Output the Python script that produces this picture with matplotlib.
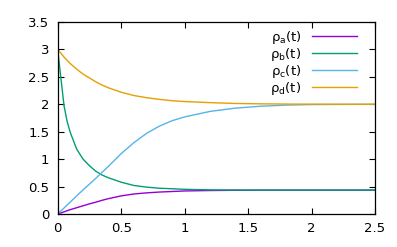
import matplotlib
matplotlib.use("Agg")
import matplotlib.pyplot as plt
from matplotlib.ticker import FormatStrFormatter, MultipleLocator

matplotlib.rcParams['font.family'] = ['DejaVu Sans']
matplotlib.rcParams['font.size'] = 9.5

# valores
t = [0, 0.025, 0.05, 0.075, 0.1, 0.15, 0.2, 0.25, 0.3, 0.35, 0.4, 0.5,
     0.6, 0.7, 0.8, 0.9, 1.0, 1.2, 1.4, 1.6, 1.8, 2.0, 2.5]
rho_a = [0, 0.02, 0.04, 0.06, 0.08, 0.115, 0.15, 0.185, 0.215, 0.25, 0.28, 0.33,
         0.365, 0.385, 0.40, 0.41, 0.42, 0.428, 0.432, 0.434, 0.435, 0.435, 0.435]
rho_b = [3.0, 2.48, 1.97, 1.68, 1.48, 1.18, 1.00, 0.88, 0.78, 0.71, 0.66, 0.58,
         0.52, 0.49, 0.47, 0.46, 0.45, 0.44, 0.437, 0.436, 0.436, 0.436, 0.436]
rho_c = [0, 0.055, 0.11, 0.165, 0.22, 0.33, 0.44, 0.545, 0.65, 0.76, 0.87, 1.10,
         1.30, 1.47, 1.60, 1.70, 1.77, 1.87, 1.93, 1.965, 1.985, 1.995, 2.0]
rho_d = [3.0, 2.93, 2.86, 2.80, 2.74, 2.64, 2.55, 2.48, 2.41, 2.35, 2.30, 2.22,
         2.16, 2.12, 2.09, 2.065, 2.05, 2.03, 2.015, 2.008, 2.004, 2.002, 2.0]

labels = ['ρ$_\\mathrm{a}$(t)', 'ρ$_\\mathrm{b}$(t)', 'ρ$_\\mathrm{c}$(t)', 'ρ$_\\mathrm{d}$(t)']
colores = ['#9400d3', '#009e73', '#56b4e9', '#e69f00']

fig = plt.figure(figsize=(3.97, 2.47), dpi=100)
ax = fig.add_axes([57.7 / 397, 33 / 247, (375 - 57.7) / 397, (214 - 22) / 247])

for serie, lab, col in zip([rho_a, rho_b, rho_c, rho_d], labels, colores):
    ax.plot(t, serie, color=col, lw=1.0, label=lab)

ax.set_xlim(0, 2.5)
ax.set_ylim(0, 3.5)
ax.xaxis.set_major_locator(MultipleLocator(0.5))
ax.yaxis.set_major_locator(MultipleLocator(0.5))
ax.xaxis.set_major_formatter(FormatStrFormatter('%g'))
ax.yaxis.set_major_formatter(FormatStrFormatter('%g'))
ax.tick_params(direction='in', length=4, width=0.8, top=True, right=True,
               labelsize=9.5, pad=6, colors='black')
for s in ax.spines.values():
    s.set_linewidth(0.9)

ax.legend(loc='upper right', bbox_to_anchor=(357 / 397, (247 - 29) / 247),
          bbox_transform=fig.transFigure, frameon=False, markerfirst=False,
          handlelength=3.4, handletextpad=0.8, labelspacing=0.0,
          borderpad=0, borderaxespad=0, fontsize=9.5)

fig.savefig('out.png', dpi=100)
